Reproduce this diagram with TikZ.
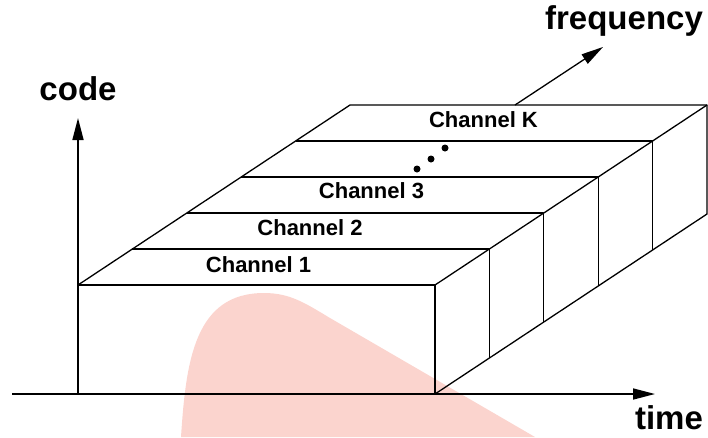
\documentclass[tikz,border=0pt]{standalone}
\usepackage{fontspec}
\setmainfont{Liberation Sans}
\usetikzlibrary{arrows.meta,calc}
\definecolor{wmpink}{RGB}{251,212,206}
\tikzset{
  boxline/.style={line width=1.3pt, black, line join=round},
  axis/.style={line width=1.6pt, black, -{Triangle[length=22pt,width=11pt]}},
  axislabel/.style={font=\fontsize{33}{38}\selectfont\bfseries, anchor=base, inner sep=0pt},
  chlabel/.style={font=\fontsize{22}{26}\selectfont\bfseries, anchor=base, inner sep=0pt},
  dot/.style={circle, fill=black, inner sep=0pt, minimum size=7pt},
}
\begin{document}
\begin{tikzpicture}[x=1pt,y=-1pt]
\useasboundingbox (0,0) rectangle (708,437);

% soft pink pulse in the background
\fill[wmpink] (181,437) .. controls (186,360) and (195,293) .. (264,293)
  .. controls (290,293) and (305,303) .. (330,318) -- (535,437) -- cycle;

% corners of the front face
\coordinate (O)  at (78,394);
\coordinate (FL) at (78,285);
\coordinate (FR) at (435,285);
\coordinate (FB) at (435,394);
% corners of the back face
\coordinate (BL) at (350,105);
\coordinate (BR) at (707,105);
\coordinate (BB) at (707,214);

% front face and outer edges of the block
\draw[boxline] (FL) rectangle (FB);
\draw[boxline] (FL) -- (BL) -- (BR) -- (BB) -- (FB);
\draw[boxline] (FR) -- (BR);

% one slab per channel, stacked along the frequency direction
\foreach \k in {1,...,4} {
  \coordinate (L\k) at ($(FL)+(54.4*\k,-36*\k)$);
  \coordinate (R\k) at ($(FR)+(54.4*\k,-36*\k)$);
  \coordinate (D\k) at ($(FB)+(54.4*\k,-36*\k)$);
  \draw[boxline] (L\k) -- (R\k) -- (D\k);
}

% axes
\coordinate (tstart) at (12,394);
\coordinate (ttip)   at (655,394);
\coordinate (ctip)   at (78,118);
\coordinate (fstart) at (515,105);
\coordinate (ftip)   at (603,47);
\draw[axis] (tstart) -- (ttip);
\draw[axis] (O) -- (ctip);
\draw[axis, line width=1.3pt] (fstart) -- (ftip);

\node[axislabel] (code) at (78,100) {code};
\node[axislabel] (freq) at (624,29) {frequency};
\node[axislabel] (time) at (669,429) {time};

% channel labels
\node[chlabel] (ch1) at (258.5,272) {Channel 1};
\node[chlabel] (ch2) at (310,235) {Channel 2};
\node[chlabel] (ch3) at (371.5,198) {Channel 3};
\node[chlabel] (chK) at (483.5,127) {Channel K};

% ellipsis between channel 3 and channel K
\node[dot] (d1) at (417,169) {};
\node[dot] (d2) at (431,159) {};
\node[dot] (d3) at (445,148) {};
\end{tikzpicture}
\end{document}
